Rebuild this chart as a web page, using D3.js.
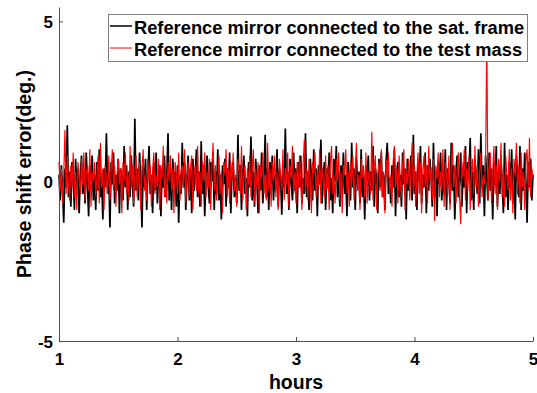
<!DOCTYPE html>
<html>
<head>
<meta charset="utf-8">
<script src="https://cdn.jsdelivr.net/npm/d3@7/dist/d3.min.js"></script>
<style>
  html, body { margin: 0; padding: 0; background: #fff; }
  svg { display: block; font-family: "Liberation Sans", Arial, Helvetica, sans-serif; }
</style>
</head>
<body>
<svg id="chart" width="537" height="393"></svg>
<script>
// Phase shift error over time, two mirror configurations
const hoursStart = 1;
const hoursEnd = 5;
const sampleStep = 0.01; // hours between samples

const satFrameError = [
  0.2,-0.6,0.5,-0.3,-1.3,0.4,-0.2,1.75,-0.5,0.3,-0.8,0.6,0.1,-0.9,0.7,-0.2,0.4,-1.0,0.2,0.8,
  -0.4,0.3,-0.7,0.9,-0.1,-1.1,0.5,0.0,0.8,-0.6,0.2,-0.9,0.6,-0.3,1.0,-0.5,0.1,-1.2,0.4,-0.2,
  1.5,-0.4,0.3,-1.45,0.6,-0.1,0.9,-0.7,0.2,-0.3,0.7,-1.0,0.4,0.1,-0.6,1.1,-0.2,0.5,-0.9,0.3,
  -0.5,0.8,-0.1,-0.8,1.95,-0.3,0.4,-0.6,0.9,0.0,-1.45,0.5,-0.2,0.7,-0.9,0.3,1.1,-0.4,0.2,-1.0,
  0.6,-0.3,0.9,-0.7,0.1,0.5,-1.1,0.3,-0.2,0.8,-0.5,0.2,1.5,-0.6,0.4,-0.9,0.7,-0.1,0.3,-0.8,
  0.5,-1.3,0.2,-0.4,1.2,-0.2,0.6,-0.9,0.1,0.8,-0.6,0.4,-1.0,0.7,-0.3,0.2,1.0,-0.5,0.3,-0.8,
  1.25,-0.4,0.5,-1.1,0.2,0.8,-0.2,-0.7,0.6,0.0,0.9,-0.9,0.3,-0.4,1.0,-0.6,0.2,-1.2,0.5,-0.1,
  0.7,-0.8,0.4,-0.2,0.9,-1.0,0.3,0.6,-0.5,0.1,-0.7,1.45,-0.3,0.5,-0.9,0.2,0.8,-0.4,0.1,-1.1,
  0.6,-0.2,1.4,-0.6,0.3,-0.8,0.7,0.0,-1.0,0.5,-0.3,0.9,-0.7,0.2,1.45,-0.5,0.4,-0.9,0.6,-0.1,
  0.8,-0.6,0.2,-0.3,1.0,-0.8,0.4,0.1,-1.05,0.5,-0.2,1.65,-0.4,0.3,-0.9,0.7,0.0,-0.6,0.9,-0.3,
  0.4,-1.0,0.6,-0.2,0.8,-0.7,0.1,-0.4,1.5,-0.5,0.3,-0.9,0.7,0.2,-0.6,1.0,-0.3,0.4,-1.1,0.5,
  -0.1,1.3,-0.7,0.2,0.6,-0.9,0.4,-0.2,0.9,-0.6,0.1,-1.0,0.7,0.0,1.1,-0.5,0.3,-0.8,0.5,-0.3,
  0.9,-0.4,0.2,-1.1,0.6,0.1,-0.6,1.2,-0.2,0.4,-0.9,0.7,-0.1,0.3,-0.7,1.0,-0.5,0.2,-1.2,0.5,
  0.0,0.8,-0.6,0.3,-0.3,1.1,-0.8,0.4,0.1,-1.0,0.7,-0.2,0.9,-0.5,0.2,-0.9,0.6,1.2,-0.4,0.1,
  -0.7,0.5,-0.2,1.0,-1.1,0.3,0.6,-0.5,0.2,-0.8,0.9,-0.1,0.4,-1.2,0.7,-0.3,0.1,0.8,-0.6,1.45,
  -0.4,0.3,-0.9,0.6,0.0,1.1,-0.7,0.2,-0.2,0.9,-1.0,0.5,-0.3,0.7,0.1,-0.8,1.2,-0.5,0.3,-1.1,
  0.6,-0.1,0.9,-0.6,0.2,-0.4,1.0,-0.9,0.4,0.1,-0.7,1.2,-0.3,0.5,-1.2,0.3,0.8,-0.5,0.0,0.9,
  -0.8,0.4,-0.2,1.1,-1.0,0.6,0.1,1.35,-0.6,0.3,-0.9,0.7,0.2,-0.4,1.0,-0.7,1.5,-0.2,0.5,-1.1,
  0.8,0.1,-0.6,0.9,-0.3,0.4,-1.2,0.6,-0.1,1.1,-0.8,0.3,-0.4,0.7,0.0,-1.0,1.2,-0.5,0.2,-0.9,
  0.6,-0.2,1.0,-0.7,0.3,-1.2,0.8,0.1,-0.5,1.1,-0.9,0.4,-0.3,0.9,0.0,-1.3,0.6,-0.2,0.7,-0.6,
  0.2
];

const testMassError = [
  0.6,-0.3,0.4,-0.7,0.2,1.6,-0.4,0.8,0.0,-0.6,0.5,-0.2,0.9,-0.5,0.3,-0.9,0.6,0.1,-0.4,0.7,
  -0.1,0.9,-0.6,0.2,0.5,-0.3,1.0,-0.8,0.3,0.0,0.6,-0.5,0.2,0.8,-0.7,1.2,-0.2,0.4,-0.9,0.5,
  0.1,-0.4,0.8,-0.6,0.3,1.0,-0.3,0.5,-0.8,0.2,0.7,-0.1,0.4,-1.0,0.6,0.0,0.9,-0.4,0.3,-0.6,
  1.1,-0.2,0.5,-0.7,0.2,0.8,-0.5,0.1,0.6,-0.9,0.4,1.0,-0.3,0.2,-0.6,0.7,0.0,0.5,-0.8,0.3,
  0.9,-0.4,0.2,-0.2,0.7,-0.9,0.5,0.1,1.1,-0.5,0.3,-0.7,0.6,0.0,0.8,-0.3,0.4,-1.0,0.6,0.2,
  -0.4,0.9,-0.6,0.3,0.5,-0.2,1.0,-0.7,0.1,0.6,-0.5,0.4,0.8,-0.9,0.2,0.5,-0.3,1.1,-0.4,0.3,
  -0.8,0.6,0.0,0.9,-0.5,0.3,-0.2,0.7,-0.9,0.4,1.2,-0.3,0.5,-0.6,0.1,0.8,-0.4,0.3,-1.0,0.6,
  0.2,1.0,-0.5,0.4,-0.7,0.6,0.0,0.9,-0.3,0.2,-0.8,0.7,0.3,-0.4,1.1,-0.6,0.2,0.5,-0.9,0.4,
  -0.1,0.8,-0.5,0.3,1.0,-0.7,0.4,-0.2,0.6,-1.0,0.5,0.1,0.9,-0.4,0.2,-0.6,1.2,-0.3,0.4,-0.8,
  0.6,0.0,0.8,-0.5,0.3,-0.9,0.7,0.2,-0.3,1.0,-0.6,0.4,-0.1,0.9,-0.8,0.5,0.1,1.1,-0.4,0.3,
  -0.7,0.6,-0.2,0.8,0.1,-0.9,0.5,1.3,-0.3,0.4,-0.6,0.7,0.0,-1.0,0.6,0.2,0.9,-0.5,0.3,-0.2,
  1.0,-0.7,0.4,0.1,-0.5,0.8,-0.3,0.5,-0.9,0.6,1.1,-0.4,0.2,-0.7,0.7,0.0,0.9,-0.6,0.3,-1.0,
  0.5,0.2,1.0,-0.4,0.3,-0.8,0.6,-0.1,0.8,-0.6,0.4,1.2,-0.3,0.2,-0.9,0.7,0.1,0.5,-0.5,0.9,
  -0.7,0.3,0.0,-0.4,1.55,-0.6,0.4,0.8,-0.9,0.2,0.6,-0.3,1.0,-0.5,0.3,-1.0,0.7,0.1,0.9,-0.4,
  0.2,-0.8,0.6,1.1,-0.2,0.4,-0.7,0.8,0.0,-0.5,0.5,1.0,-0.9,0.3,-0.1,0.7,-0.6,0.4,1.2,-0.3,
  0.5,-0.8,0.2,0.9,-0.4,0.6,-1.0,0.3,0.8,-0.2,0.5,-0.7,1.1,0.0,0.4,-0.6,0.7,-1.25,0.5,0.1,
  0.9,-0.5,0.3,-0.3,1.0,-0.8,0.6,0.2,-0.4,0.8,-0.9,0.4,1.2,-0.2,0.5,-0.7,0.3,0.9,-0.5,-1.35,
  0.6,0.1,1.0,-0.6,0.4,-0.3,0.8,-0.9,0.2,0.7,-0.4,1.1,-0.2,0.5,-0.8,0.3,0.9,-0.5,0.2,-0.1,
  0.6,4.5,-0.6,0.4,0.9,-0.7,0.2,1.1,-0.4,0.5,-0.9,0.7,0.0,1.2,-0.5,0.3,-0.8,0.8,0.1,-0.3,
  1.0,-0.6,0.4,-1.0,0.7,0.2,1.2,-0.4,0.5,-0.7,0.9,-0.2,0.3,-0.9,0.6,1.0,-0.3,1.35,-0.5,0.4,
  0.1
];

const seriesNames = [
  "Reference mirror connected to the sat. frame",
  "Reference mirror connected to the test mass"
];
const seriesColors = ["#000000", "#ff0000"];
const xTicks = [1, 2, 3, 4, 5];
const yTicks = [-5, 0, 5];
const xLabel = "hours";
const yLabel = "Phase shift error(deg.)";

const svg = d3.select("#chart");

const x = d3.scaleLinear().domain([hoursStart, hoursEnd]).range([59, 533]);
const y = d3.scaleLinear().domain([-5, 5.45]).range([341, 7]);

const toPoints = vals => vals.map((v, i) => [hoursStart + i * sampleStep, v]);
const line = d3.line().x(d => x(d[0])).y(d => y(d[1]));

// data traces (black first, red over it)
svg.append("path")
  .datum(toPoints(satFrameError))
  .attr("fill", "none")
  .attr("stroke", seriesColors[0])
  .attr("stroke-width", 1.7)
  .attr("d", line);

svg.append("path")
  .datum(toPoints(testMassError))
  .attr("fill", "none")
  .attr("stroke", seriesColors[1])
  .attr("stroke-width", 1.15)
  .attr("d", line);

// axes with inward ticks
const axisColor = "#4d4d4d";
const plain = d => String(d);
const xAxis = svg.append("g")
  .attr("transform", `translate(0,${y(-5)})`)
  .call(d3.axisBottom(x).tickValues(xTicks).tickFormat(plain).tickSizeInner(-4).tickSizeOuter(0));
const yAxis = svg.append("g")
  .attr("transform", `translate(${x(hoursStart)},0)`)
  .call(d3.axisLeft(y).tickValues(yTicks).tickFormat(plain).tickSizeInner(-4).tickSizeOuter(0));

[xAxis, yAxis].forEach(g => {
  g.select(".domain").attr("stroke", axisColor).attr("stroke-width", 1);
  g.selectAll(".tick line").attr("stroke", axisColor);
  g.selectAll(".tick text")
    .attr("fill", "#000")
    .style("font-size", "17px")
    .style("font-weight", "bold")
    .style("font-family", "'Liberation Sans', Arial, sans-serif");
});
xAxis.selectAll(".tick text").attr("dy", null).attr("y", 24);
yAxis.selectAll(".tick text").attr("x", -6).attr("dy", "0.36em");

// axis titles
svg.append("text")
  .attr("x", x(3))
  .attr("y", 389)
  .attr("text-anchor", "middle")
  .style("font-size", "19.5px")
  .style("font-weight", "bold")
  .text(xLabel);

svg.append("text")
  .attr("transform", `translate(31,174) rotate(-90)`)
  .attr("text-anchor", "middle")
  .style("font-size", "19.5px")
  .style("font-weight", "bold")
  .text(yLabel);

// legend
const legend = svg.append("g");
legend.append("rect")
  .attr("x", 108.5).attr("y", 14.5)
  .attr("width", 419).attr("height", 47)
  .attr("fill", "#fff")
  .attr("stroke", "#808080")
  .attr("stroke-width", 1);

seriesNames.forEach((name, i) => {
  const cy = 26 + i * 22;
  legend.append("line")
    .attr("x1", 110).attr("x2", 132)
    .attr("y1", cy).attr("y2", cy)
    .attr("stroke", seriesColors[i])
    .attr("stroke-width", i === 0 ? 1.5 : 1);
  legend.append("text")
    .attr("x", 134).attr("y", cy + 8)
    .style("font-size", "18.3px")
    .style("font-weight", "bold")
    .text(name);
});
</script>
</body>
</html>
